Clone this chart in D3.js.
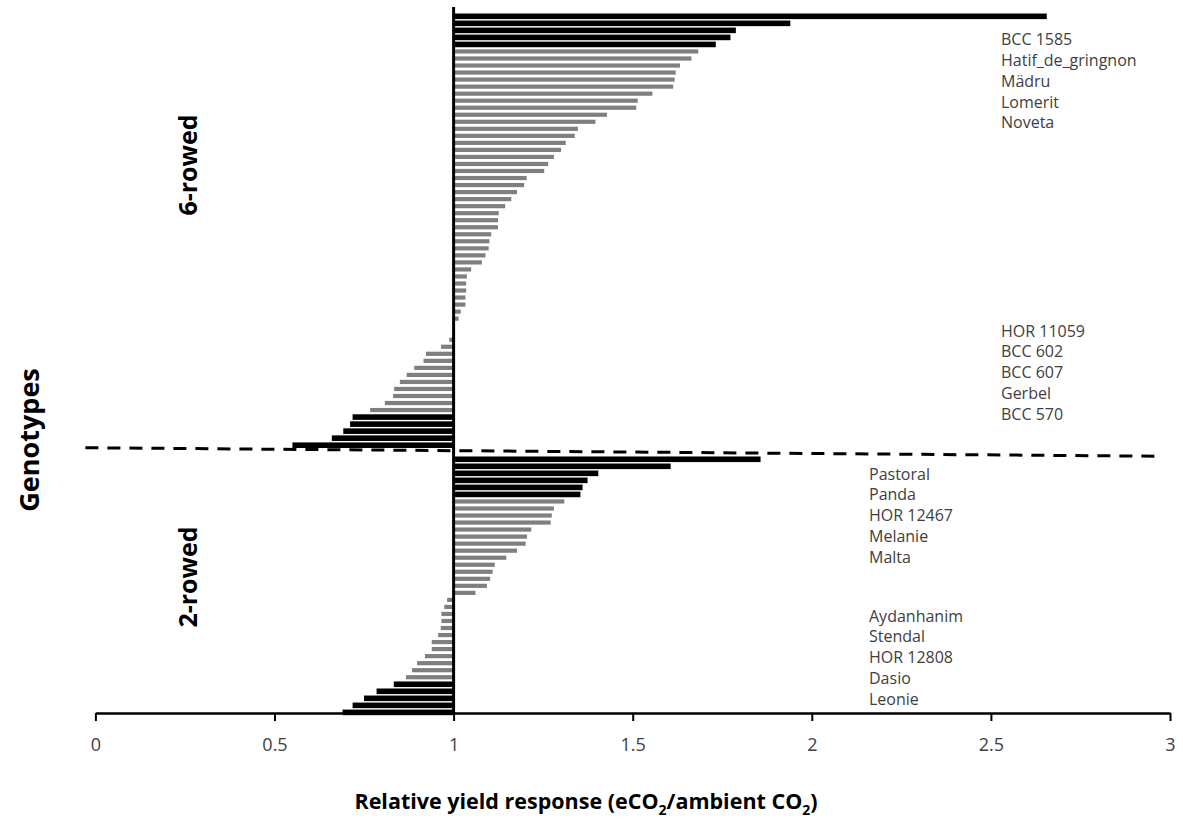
<!DOCTYPE html>
<html>
<head>
<meta charset="utf-8">
<script src="https://cdn.jsdelivr.net/npm/d3@7"></script>
<style>
  html, body { margin: 0; padding: 0; background: #fff; }
  svg { display: block; }
</style>
</head>
<body>
<svg id="chart" width="1183" height="821"></svg>
<script>
// ---------------- DATA ----------------
// 6-rowed genotypes (top to bottom)
const sixTopHighlight = [2.656, 1.940, 1.788, 1.773, 1.732];
const sixPositive = [1.683, 1.664, 1.632, 1.620, 1.617, 1.613, 1.555, 1.514, 1.510, 1.428,
  1.396, 1.347, 1.338, 1.313, 1.300, 1.280, 1.264, 1.253, 1.204, 1.197, 1.177, 1.161,
  1.144, 1.126, 1.124, 1.124, 1.105, 1.100, 1.098, 1.089, 1.079, 1.049, 1.037, 1.035,
  1.035, 1.033, 1.033, 1.020, 1.014, 1.002];
const sixNegative = [0.998, 0.988, 0.965, 0.923, 0.916, 0.890, 0.869, 0.850, 0.834, 0.831, 0.808, 0.767];
const sixBottomHighlight = [0.718, 0.711, 0.692, 0.660, 0.550];

// 2-rowed genotypes (top to bottom)
const twoTopHighlight = [1.857, 1.606, 1.404, 1.374, 1.360, 1.354];
const twoPositive = [1.309, 1.280, 1.274, 1.271, 1.217, 1.205, 1.201, 1.177, 1.147, 1.115,
  1.109, 1.102, 1.093, 1.061];
const twoNegative = [0.982, 0.974, 0.966, 0.966, 0.964, 0.957, 0.939, 0.939, 0.920, 0.898, 0.884, 0.867];
const twoBottomHighlight = [0.833, 0.785, 0.750, 0.718, 0.690];

// Named genotypes
const sixTopNames = ["BCC 1585", "Hatif_de_gringnon", "Mädru", "Lomerit", "Noveta"];
const sixBottomNames = ["HOR 11059", "BCC 602", "BCC 607", "Gerbel", "BCC 570"];
const twoTopNames = ["Pastoral", "Panda", "HOR 12467", "Melanie", "Malta"];
const twoBottomNames = ["Aydanhanim", "Stendal", "HOR 12808", "Dasio", "Leonie"];

const groupLabels = ["6-rowed", "2-rowed"];
const xTicks = [0, 0.5, 1, 1.5, 2, 2.5, 3];
const baseline = 1;

// ---------------- BUILD ROWS ----------------
const rows = [];
function push(arr, hl, group) { arr.forEach(v => rows.push({ id: rows.length, v, hl, group })); }
push(sixTopHighlight, true, 6);
push(sixPositive, false, 6);
push(sixNegative, false, 6);
push(sixBottomHighlight, true, 6);
const gapIndex = rows.length;
rows.push({ id: rows.length, v: null, hl: false, group: 0 }); // separator slot
push(twoTopHighlight, true, 2);
push(twoPositive, false, 2);
push(twoNegative, false, 2);
push(twoBottomHighlight, true, 2);

// ---------------- SCALES ----------------
const svg = d3.select("#chart");
const x = d3.scaleLinear().domain([0, 3]).range([95.4, 1170]);
const y = d3.scaleBand().domain(rows.map(r => r.id)).range([13.5, 715.2]).paddingInner(0.2);
const axisY = 713;
const fontMain = "'Open Sans', 'Noto Sans', sans-serif";

// ---------------- BARS ----------------
const barRows = rows.filter(r => r.v !== null);
svg.append("g").selectAll("rect").data(barRows).join("rect")
  .attr("x", d => x(Math.min(d.v, baseline)))
  .attr("width", d => Math.abs(x(d.v) - x(baseline)))
  .attr("y", d => y(d.id) + y.bandwidth() / 2 - (d.hl ? 2.8 : 2.1))
  .attr("height", d => d.hl ? 5.6 : 4.2)
  .attr("fill", d => d.hl ? "#000" : "#7f7f7f");

// ---------------- VERTICAL BASELINE ----------------
svg.append("line")
  .attr("x1", x(baseline)).attr("x2", x(baseline))
  .attr("y1", 7).attr("y2", axisY)
  .attr("stroke", "#000").attr("stroke-width", 3);

// ---------------- DASHED SEPARATOR ----------------
const sepY = y(gapIndex) + y.bandwidth() / 2;
svg.append("line")
  .attr("x1", x(0) - 10).attr("y1", sepY - 4.5)
  .attr("x2", x(3) - 10).attr("y2", sepY + 4)
  .attr("stroke", "#000").attr("stroke-width", 3)
  .attr("stroke-dasharray", "13,9");

// ---------------- X AXIS ----------------
const xAxis = d3.axisBottom(x).tickValues(xTicks).tickFormat(d3.format("")).tickSizeInner(8).tickSizeOuter(0).tickPadding(17);
const gx = svg.append("g").attr("transform", `translate(0,${axisY})`).call(xAxis);
gx.select(".domain").attr("stroke", "#000").attr("stroke-width", 2.5);
gx.selectAll(".tick line").attr("stroke", "#000").attr("stroke-width", 2);
gx.selectAll(".tick text").attr("fill", "#404040").style("font-family", fontMain).style("font-size", "18px");

// ---------------- GENOTYPE NAMES ----------------
function names(list, xPos, yStart) {
  svg.append("g").selectAll("text").data(list).join("text")
    .attr("x", xPos).attr("y", (d, i) => yStart + i * 20.8)
    .attr("dy", "0.35em")
    .attr("fill", "#404040")
    .style("font-family", fontMain).style("font-size", "16px")
    .text(d => d);
}
names(sixTopNames, 1001, 39.5);
names(sixBottomNames, 1001, 331);
names(twoTopNames, 869, 474);
names(twoBottomNames, 869, 616);

// ---------------- GROUP LABELS ----------------
[[groupLabels[0], 188, 165], [groupLabels[1], 188, 577]].forEach(([t, cx, cy]) => {
  svg.append("text")
    .attr("transform", `translate(${cx},${cy}) rotate(-90)`)
    .attr("text-anchor", "middle").attr("dy", "0.35em")
    .style("font-family", fontMain).style("font-size", "25px").style("font-weight", "bold")
    .attr("fill", "#000").text(t);
});

svg.append("text")
  .attr("transform", `translate(30,440) rotate(-90)`)
  .attr("text-anchor", "middle").attr("dy", "0.35em")
  .style("font-family", fontMain).style("font-size", "27px").style("font-weight", "bold")
  .attr("fill", "#000").text("Genotypes");

// ---------------- X TITLE ----------------
const title = svg.append("text")
  .attr("x", 586).attr("y", 809)
  .attr("text-anchor", "middle")
  .style("font-family", fontMain).style("font-size", "21.5px").style("font-weight", "bold")
  .attr("fill", "#000");
title.append("tspan").text("Relative yield response (eCO");
title.append("tspan").attr("dy", 6).style("font-size", "14px").text("2");
title.append("tspan").attr("dy", -6).text("/ambient CO");
title.append("tspan").attr("dy", 6).style("font-size", "14px").text("2");
title.append("tspan").attr("dy", -6).text(")");
</script>
</body>
</html>
